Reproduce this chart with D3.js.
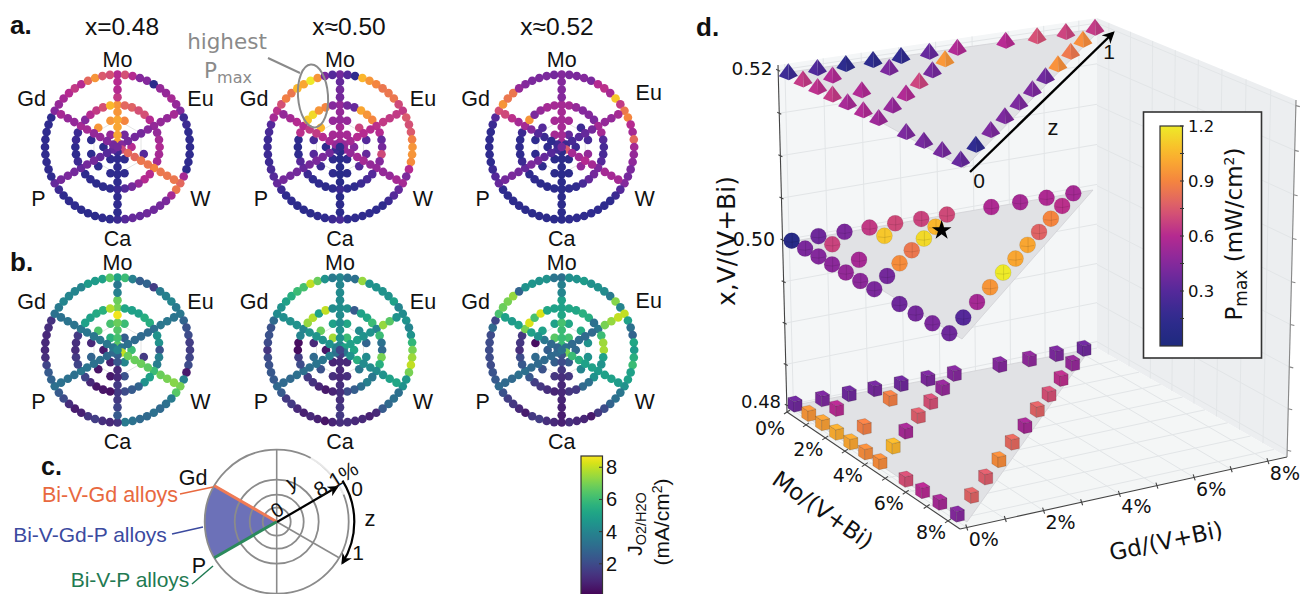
<!DOCTYPE html>
<html><head><meta charset="utf-8">
<script src="https://cdn.jsdelivr.net/npm/d3@7"></script>
<style>html,body{margin:0;background:#fff}svg{display:block}</style></head>
<body><svg id="c" width="1301" height="594"></svg>
<script>
// ---------- DATA: Pmax (mW/cm2), polar panels a ----------
const pOuter48=[.6,.72,.6,.45,.45,.12,.5,.5,.55,.5, .45,.2,.2,.15,.15,.15,.15,.15,.12,.55, .8,.85,.55,.42,.4,.38,.38,.35,.35,.3, .2,.15,.15,.12,.12,.12,.15,.15,.15,.2, .35,.15,.15,.15,.15,.15,.15,.15,.15,.15, .45,.5,.55,.6,.65,.6,.8,.95,.75,.72];
const pMid48=[.95,.8,.78,.72,.72,.6, .5,.5,.55,.58,.55,.55, .9,.6,.6,.5,.4,.3, .2,.15,.13,.12,.15,.15, .35,.2,.15,.15,.2,.2, .55,.45,.6,.65,.72,1.05];
const pInner48=[.9,null,null,.3,null,.15,.15,.15,.15,.15,.95,.95];
const pCore48=[.4,.6,.15,.15,.12,.5];
const pSpokes48=[[1,1,1,1,.95,.65,.6,.6],[.45,.4,.4,.4,.45,.5,.5,.55],[.7,.8,.8,.85,.85,.85,.85,.85],[.2,.15,.15,.15,.15,.15,.15,.15],[.35,.3,.35,.4,.4,.4,.42,.4],[.4,.45,.5,.5,.55,.5,.5,.55]];
const pCenter48=.4;

const pOuter50=[.4,.3,.15,1.05,.95,.9,.85,.85,.85,.7, .65,.75,.72,.75,.88,.95,.95,.92,.6,.42, .55,.35,.3,.2,.15,.15,.15,.15,.15,.15, .25,.2,.15,.15,.12,.12,.12,.15,.15,.2, .35,.3,.25,.2,.2,.2,.2,.25,.3,.55, .62,.72,.88,.85,1.05,1,1.2,.95,.42,.3];
const pMid50=[.5,.4,.35,1,.95,.9, .62,.6,.35,.4,.7,.45, .5,.3,.25,.2,.15,.15, .2,.15,.12,.15,.15,.2, .35,.3,.15,.12,.15,.62, .6,1.1,1.15,.95,.9,.45];
const pInner50=[.5,.68,.3,.35,.3,.12,.15,.2,.3,.25,1.05,.5];
const pCore50=[.55,.45,.15,.15,.15,.55];
const pSpokes50=[[.55,.55,.55,.5,.5,.4,.4,.35],[.5,.55,.6,.6,.6,.65,.65,.65],[.5,.5,.55,.55,.5,.5,.5,.55],[.1,.1,.1,.1,.1,.1,.12,.12],[.2,.4,.42,.42,.4,.4,.4,.4],[.5,.55,.6,.65,.65,.6,.55,.5]];
const pCenter50=.15;

const pOuter52=[.45,.42,.42,.45,.42,.6,.62,.55,1.1,.65, .85,.9,.6,.55,.8,.55,.5,.48,.42,.4, .45,.3,.2,.15,.15,.15,.15,.15,.15,.15, .12,.12,.12,.12,.12,.12,.13,.13,.13,.15, .35,.3,.2,.15,.15,.15,.15,.15,.2,.3, .72,.95,.85,.85,.5,.45,.42,.42,.42,.4];
const pMid52=[.55,.55,.5,.45,.45,.42, .55,.55,.3,.25,.25,.3, .42,.4,.35,.25,.15,.15, .12,.12,.12,.12,.15,.15, .35,.2,.15,.15,.15,.2, .55,.95,.42,.5,.55,.55];
const pInner52=[.55,.2,.25,.5,.5,.12,.12,.15,.15,.15,.3,.55];
const pCore52=[.35,.2,.12,.12,.15,.55];
const pSpokes52=[[.55,.55,.55,.55,.55,.45,.45,.45],[.2,.25,.3,.35,.4,.5,.5,.55],[.75,.55,.55,.6,.55,.55,.55,.55],[.12,.12,.12,.12,.12,.12,.12,.12],[.25,.3,.35,.4,.42,.4,.42,.4],[.2,.15,.2,.3,.45,.55,.62,.7]];
const pCenter52=.4;

// ---------- DATA: J O2/H2O (mA/cm2), polar panels b ----------
const jOuter48=[5,6,3.8,2.6,2.8,1.6,3.6,3.8,4,3.6, 3.5,2.8,2.2,2,1.6,1.6,1.8,2,.6,3.8, 7,6.5,3.6,3.2,3,3.2,3,3,3.3,3.6, 1.3,1,1.2,1.6,1.4,.8,.7,1.1,2,2.5, 3.2,2.8,2.5,1.8,1.2,1,1,1,1.2,1.3, 3.3,3.6,4,4,4,4,4.8,4.8,5,6.5];
const jMid48=[7,5.2,5,5,5.5,5.5, 3.2,4.5,4.4,2.2,3.8,3.7, 6,5,4.5,2.8,2.5,2, 1.5,.4,.5,.5,1,1.8, 3.5,1.8,1.5,1.1,1.2,1.5, 3.5,5,5,5.3,5.6,7.8];
const jInner48=[6,null,null,1.5,null,2.2,.6,.5,2.8,1,6.3,6.2];
const jCore48=[2.6,6,4,.8,.6,5.6];
const jSpokes48=[[6.5,6.2,6.4,6.8,8.6,6.8,3.8,3.5],[3.4,3.2,3,3,3,3.5,3.5,3.4],[8,6.8,6.8,6.8,6.6,6.8,7,7.2],[2.6,2.4,1,1,1.5,1.5,1.8,2.5],[3,3,3.2,3.3,3.4,3.3,3.3,3.3],[3.5,3.5,3.5,3.5,3.5,3.4,3.4,3.3]];
const jCenter48=4;

const jOuter50=[4,3.4,3.2,7.4,4.5,4.5,4.5,4.4,5,4, 4.2,4.5,4,4.5,5.8,7,7.5,8,7,4.7, 4.5,3.2,3.2,3,2.5,1,.8,1,1,1.2, 1.2,.9,.5,.8,1,.8,1,1.5,1.5,2.5, 3,2.5,2.4,2.2,2,1.4,2,2.2,2.2,3, 4.2,4.5,5,5.5,6,6.2,8,6.8,4.5,3.6];
const jMid50=[4.3,4.4,2.5,5,5.2,6, 4,6,3.3,3,7,5.5, 4.2,3.5,3.8,3.2,2.6,2, 1.2,.9,.6,.9,1.3,1.5, 3.2,2,1.6,.3,.3,4, 4,7.4,7.8,5,8,4.2];
const jInner50=[5.2,4.2,2.8,4.2,3.5,1.2,1.2,2.2,3,1,6.8,5];
const jCore50=[6,5.2,1,.9,.5,7.6];
const jSpokes50=[[4,4.4,4.5,4.3,4.2,4.2,4.2,4],[5,5,5,4.5,4.5,7.4,6.5,4.5],[3.5,4.5,5.5,4.2,4.2,4.5,5,5.2],[1.5,1,1,1,1.2,1.2,1.4,1.5],[3.3,3.8,3.4,3.4,3.2,3.2,3,3],[3.8,4.5,4.4,4.6,4.5,4.5,4.4,4.3]];
const jCenter50=1.8;

const jOuter52=[3.2,4.3,4.5,4.8,4.4,4.4,4.2,3.6,7.2,4, 8,5,3.3,2.8,5.2,4.8,5.5,6,5,5, 4.5,3.5,3.2,2.8,2,1.5,.6,.9,1,1.2, .8,1,1.2,1.6,1.5,.7,1,1.4,1.6,2.2, 3,2.5,2.3,2,2,2,2,2,3,1.8, 6.2,6.8,7,7.4,2.8,4.5,4.6,4.5,4.5,3.4];
const jMid52=[5,5.2,5.2,5.6,5.5,3.2, 3.5,6,7.5,7.6,5,4.5, 4.8,4.5,3.2,3,1.5,1.4, 1,.9,1.2,1.4,1.6,2.4, 3.2,2.4,2,1.2,1.4,1.4, 7,8.3,6.2,8.3,5.2,5];
const jInner52=[5.2,5.4,4.5,4.5,4,1.4,1.4,2.2,3,.3,5,5];
const jCore52=[6.2,3,2.5,2.6,2.6,6.5];
const jSpokes52=[[6,6,6,6.2,5.2,5,4,3.8],[3.2,3,3,3,3,7,7.4,8],[7,6,5.5,5,5,5,5,4.8],[2.2,2,1.4,1.2,1,.9,.8,.7],[3,3,3,3,3,3.2,3,3],[2.8,3,3.5,4.5,5,5,4.8,5]];
const jCenter52=3.2;

// ---------- DATA: panel d, composition of each mark (percent) and Pmax per level ----------
const gdPct=[0,0,0,0,0,0,0,0,0,0,0, .76,1.5,2.21,2.94,3.68,4.41,5.67,6.49,7.24,8, .9,1.79,2.63,3.47,4.27,5.05,5.79,6.55,7.28, .76,2.23,.77,.78,1.53,2.29,3,3.7];
const moPct=[0,.68,1.36,2.05,2.75,3.48,4.19,5.47,6.29,7.14,8, 0,0,0,0,0,0,0,0,0,0, 7.1,6.21,5.37,4.53,3.73,2.95,2.21,1.45,.72, .7,.72,2.04,3.45,2.74,2,1.35,.69];
const pmaxL48=[.38,.95,.98,1.02,1,.92,.92,.72,.6,.55,.45, .42,.38,.4,.38,.42,.45,.45,.48,.42,.38, .78,.76,.92,.8,.55,.78,.72,.62,.5, .6,.88,.88,1.05,.55,.76,.72,.5];
const pmaxL50=[.08,.42,.45,.47,.5,.47,.42,.38,.4,.42,.38, .38,.42,.65,.7,.68,.7,.58,.55,.58,.55, .3,.55,.95,1.2,1,1,.78,.9,.62, .68,1.1,.55,.4,.92,.85,1.15,1.05];
const pmaxL52=[.2,.65,.62,.65,.55,.58,.52,.42,.4,.4,.35, .28,.12,.12,.15,.35,.58,.6,.72,.68,.65, .15,.42,.42,.42,.42,.38,.93,.85,.92, .58,.42,.58,.5,.58,.68,.4,.95];
const starPoint={gd:3.7,mo:1.0};
const levelLabels=["0.48","0.50","0.52"];
const moTicks=[0,2,4,6,8], gdTicks=[0,2,4,6,8];
const pmaxTicks=[.3,.6,.9,1.2], pmaxMinor=[.15,.45,.75,1.05];
const jTicks=[2,4,6,8];
const spokeNames=["Mo","Eu","W","Ca","P","Gd"];
const titles=["x=0.48","x≈0.50","x≈0.52"];

// ---------- colours ----------
const FS="'Liberation Sans',Arial,sans-serif", DV="'DejaVu Sans',sans-serif";
const pColor=d3.scaleLinear().domain([0,.15,.3,.45,.6,.75,.9,1.05,1.2])
  .range(["#1e2a7e","#2f2b8e","#55299a","#84299c","#b52a90","#da5a6e","#f4853f","#fbb62c","#eeea28"]).clamp(true);
const jColor=v=>d3.interpolateViridis(Math.min(1,Math.max(0,v/8.8)));

const svg=d3.select("#c");
function text(g,x,y,s,o={}){
  const t=g.append("text").attr("x",x).attr("y",y).attr("dy",".35em")
    .attr("font-family",o.font||FS).attr("font-size",o.size||20).attr("fill",o.fill||"#111")
    .attr("text-anchor",o.anchor||"middle").attr("font-weight",o.weight||null).text(s);
  if(o.rot!==undefined)t.attr("transform",`rotate(${o.rot} ${x} ${y})`);
  return t;
}

// ---------- polar panels ----------
const rScale=d3.scaleLinear().domain([0,8]).range([0,72.5]);
const rad=d=>d*Math.PI/180;
const ringOuter=8, ringMid=4.65, ringInner=3, ringCore=1.55;
const spokeLevels=[.55,1.33,2.2,3,3.87,5.5,6.33,7.2];
const labelPos={Mo:[0,-88],Eu:[83,-49],W:[83,51],Ca:[0,91],P:[-79,51],Gd:[-86,-49]};
function polar(cx,cy,d,color,adj={}){
  const g=svg.append("g").attr("transform",`translate(${cx},${cy})`);
  const hex=d3.range(6).map(i=>d3.pointRadial(rad(i*60),rScale(ringInner)));
  g.append("path").attr("d","M"+hex.join("L")+"Z").attr("fill","none").attr("stroke","#ddd").attr("stroke-width",.8);
  const dots=[];
  d.outer.forEach((v,i)=>dots.push({a:i*6,l:ringOuter,v}));
  d.mid.forEach((v,i)=>dots.push({a:i*10,l:ringMid,v}));
  d.inner.forEach((v,i)=>dots.push({a:15+i*30,l:ringInner,v}));
  d.core.forEach((v,i)=>dots.push({a:30+i*60,l:ringCore,v}));
  d.spokes.forEach((arr,s)=>arr.forEach((v,k)=>dots.push({a:s*60,l:spokeLevels[k],v})));
  dots.push({a:0,l:0,v:d.center});
  g.selectAll("circle").data(dots.filter(p=>p.v!==null)).join("circle")
    .attr("cx",p=>d3.pointRadial(rad(p.a),rScale(p.l))[0])
    .attr("cy",p=>d3.pointRadial(rad(p.a),rScale(p.l))[1])
    .attr("r",4.3).attr("fill",p=>color(p.v));
  spokeNames.forEach(n=>{
    const o=adj[n]||labelPos[n];
    text(g,o[0],o[1],n,{size:21.5});
  });
}
const setP=[
 {outer:pOuter48,mid:pMid48,inner:pInner48,core:pCore48,spokes:pSpokes48,center:pCenter48},
 {outer:pOuter50,mid:pMid50,inner:pInner50,core:pCore50,spokes:pSpokes50,center:pCenter50},
 {outer:pOuter52,mid:pMid52,inner:pInner52,core:pCore52,spokes:pSpokes52,center:pCenter52}];
const setJ=[
 {outer:jOuter48,mid:jMid48,inner:jInner48,core:jCore48,spokes:jSpokes48,center:jCenter48},
 {outer:jOuter50,mid:jMid50,inner:jInner50,core:jCore50,spokes:jSpokes50,center:jCenter50},
 {outer:jOuter52,mid:jMid52,inner:jInner52,core:jCore52,spokes:jSpokes52,center:jCenter52}];
const colCx=[117.5,340,561.7];
setP.forEach((d,i)=>polar(colCx[i],147,d,pColor,i==2?{Eu:[87,-55]}:{}));
setJ.forEach((d,i)=>polar(colCx[i],350,d,jColor,i==2?{Eu:[87,-50]}:{}));
titles.forEach((t,i)=>text(svg,[122,349,557][i],26,t,{size:24.5}));
text(svg,10,25,"a.",{anchor:"start",size:26,weight:"bold"});
text(svg,10,262,"b.",{anchor:"start",size:26,weight:"bold"});
text(svg,41,466,"c.",{anchor:"start",size:25,weight:"bold"});
text(svg,696,27,"d.",{anchor:"start",size:26,weight:"bold"});

// highest Pmax annotation
const GR="#8a8a8a";
text(svg,227,41,"highest",{font:DV,size:21.5,fill:GR});
const hp=text(svg,228,70,"P",{font:DV,size:21.5,fill:GR});
hp.append("tspan").attr("dy","5").attr("font-size",16).text("max");
svg.append("line").attr("x1",268).attr("y1",58).attr("x2",300).attr("y2",73).attr("stroke",GR).attr("stroke-width",2);
svg.append("ellipse").attr("cx",313).attr("cy",96).attr("rx",15).attr("ry",31.5)
  .attr("transform","rotate(-4 313 96)").attr("fill","none").attr("stroke",GR).attr("stroke-width",2);

// ---------- panel c ----------
const cg=svg.append("g").attr("transform","translate(276.7,521.7)");
const cr=[72,42,27,14], RG="#8b8b8b";
cg.append("path").attr("d",d3.arc()({innerRadius:0,outerRadius:72,startAngle:rad(-120),endAngle:rad(-60)})).attr("fill","#5c62b0").attr("opacity",.9);
cr.forEach(r=>cg.append("circle").attr("r",r).attr("fill","none").attr("stroke",RG).attr("stroke-width",1.8));
[0,120,180,240,300].forEach(a=>{const p=d3.pointRadial(rad(a),72);
  cg.append("line").attr("x2",p[0]).attr("y2",p[1]).attr("stroke",RG).attr("stroke-width",1.6);});
cg.append("path").attr("d",d3.arc()({innerRadius:71,outerRadius:74,startAngle:rad(28),endAngle:rad(68)})).attr("fill","#fff").attr("opacity",.8);
const gp=d3.pointRadial(rad(300),72), pp=d3.pointRadial(rad(240),72);
cg.append("line").attr("x2",gp[0]).attr("y2",gp[1]).attr("stroke","#ef7a55").attr("stroke-width",3);
cg.append("line").attr("x2",pp[0]).attr("y2",pp[1]).attr("stroke","#2b8a5c").attr("stroke-width",3);
svg.append("defs").html(`<marker id="ah" viewBox="0 0 10 10" refX="8" refY="5" markerWidth="5" markerHeight="5" orient="auto-start-reverse"><path d="M0 0L10 5L0 10L3 5Z" fill="#000"/></marker>`);
svg.append("line").attr("x1",277).attr("y1",522).attr("x2",337).attr("y2",487).attr("stroke","#000").attr("stroke-width",2.2).attr("marker-end","url(#ah)");
const curve=d3.path(); curve.arc(0,0,77.6,rad(-32),rad(32),false);
svg.append("path").attr("d",curve.toString()).attr("transform","translate(276.7,521.7)").attr("fill","none").attr("stroke","#000").attr("stroke-width",2.2).attr("marker-end","url(#ah)");
text(svg,193,477,"Gd",{size:21.5});
text(svg,199,565,"P",{size:21.5});
text(svg,292,482,"y",{size:21,rot:-20});
text(svg,277,510,"0",{size:20,rot:-30});
text(svg,336,479,"8.1%",{size:21,rot:-32});
text(svg,357,489,"0",{size:21});
text(svg,358,553,"1",{size:21});
text(svg,370,518,"z",{size:22});
const OR="#e8693f",BL="#3b4a9f",GN="#1f7a52";
text(svg,110,494,"Bi-V-Gd alloys",{size:21.5,fill:OR});
svg.append("line").attr("x1",180).attr("y1",494).attr("x2",213).attr("y2",487).attr("stroke",OR).attr("stroke-width",1.5);
text(svg,90,535,"Bi-V-Gd-P alloys",{size:21,fill:BL});
svg.append("line").attr("x1",172).attr("y1",534).attr("x2",203).attr("y2",527).attr("stroke",BL).attr("stroke-width",1.5);
text(svg,130,580,"Bi-V-P alloys",{size:21,fill:GN});
svg.append("line").attr("x1",192).attr("y1",584).attr("x2",213).attr("y2",566).attr("stroke",GN).attr("stroke-width",1.5);

// ---------- J colourbar ----------
const defs=svg.select("defs");
function grad(id,f,dom){const g=defs.append("linearGradient").attr("id",id).attr("x1",0).attr("x2",0).attr("y1",1).attr("y2",0);
  d3.range(0,1.0001,.05).forEach(t=>g.append("stop").attr("offset",t).attr("stop-color",f(dom[0]+t*(dom[1]-dom[0]))));}
grad("gj",jColor,[0,8.7]); grad("gp",pColor,[0,1.2]);
const jY=d3.scaleLinear().domain([0,8.7]).range([596,456]);
svg.append("rect").attr("x",581).attr("y",jY(8.7)).attr("width",21.5).attr("height",jY(0)-jY(8.7)).attr("fill","url(#gj)").attr("stroke","#333").attr("stroke-width",1.2);
jTicks.forEach(t=>{svg.append("line").attr("x1",599).attr("x2",603).attr("y1",jY(t)).attr("y2",jY(t)).attr("stroke","#333");
  text(svg,606,jY(t),t,{anchor:"start",size:20});});
const jl=text(svg,635,524,"J",{size:21,rot:-90});
jl.append("tspan").attr("dy",4).attr("font-size",14.5).text("O2/H2O");
const jl2=text(svg,662,522,"(mA/cm",{size:21,rot:-90});
jl2.append("tspan").attr("dy",-7).attr("font-size",14).text("2");
jl2.append("tspan").attr("dy",7).text(")");

// ---------- panel d: box ----------
function quad(p0,p1,p2,p3){
  const [x0,y0]=p0,[x1,y1]=p1,[x2,y2]=p2,[x3,y3]=p3;
  const dx1=x1-x2,dx2=x3-x2,sx=x0-x1+x2-x3,dy1=y1-y2,dy2=y3-y2,sy=y0-y1+y2-y3;
  const den=dx1*dy2-dx2*dy1,gg=(sx*dy2-dx2*sy)/den,hh=(dx1*sy-sx*dy1)/den;
  const a=x1-x0+gg*x1,b=x3-x0+hh*x3,d=y1-y0+gg*y1,e=y3-y0+hh*y3;
  return (u,v)=>{const w=gg*u+hh*v+1;return [(a*u+b*v+x0)/w,(d*u+e*v+y0)/w];};
}
const A=[787,412],B=[960,529],C=[1287,457],D=[1097,348],At=[778,65],Dt=[1097,18],Ct=[1296,100];
const wallL=quad(A,D,Dt,At), wallR=quad(D,C,Ct,Dt), floor=quad(A,D,C,B);
const gdU=d3.scaleLinear().domain([0,8]).range([.02,.94]);
const moV=d3.scaleLinear().domain([0,8]).range([0,.935]);
const zV=d3.scaleLinear().domain([.48,.52]).range([.02,.985]);
const poly=(pts,fill)=>svg.append("path").attr("d","M"+pts.join("L")+"Z").attr("fill",fill);
poly([A,D,Dt,At],"#f4f6f7"); poly([D,C,Ct,Dt],"#eceef0"); poly([A,D,C,B],"#f4f6f6");
const gl=(f,p,q)=>{const a=f(...p),b=f(...q);svg.append("line").attr("x1",a[0]).attr("y1",a[1]).attr("x2",b[0]).attr("y2",b[1]).attr("stroke","#e2e5e7").attr("stroke-width",1);};
d3.range(0,8.01,1).forEach(k=>{
  const u=gdU(k),v=moV(k),z=zV(.48+k*.005);
  gl(wallL,[u,0],[u,1]); gl(wallL,[0,z],[1,z]);
  gl(wallR,[1-v,0],[1-v,1]); gl(wallR,[0,z],[1,z]);
  gl(floor,[u,0],[u,1]); gl(floor,[0,v],[1,v]);
});
// axes
const AX="#444";
const seg=(a,b,c=AX,w=1.1)=>svg.append("line").attr("x1",a[0]).attr("y1",a[1]).attr("x2",b[0]).attr("y2",b[1]).attr("stroke",c).attr("stroke-width",w);
seg(A,B); seg(B,C); seg(A,At); seg(C,Ct,"#888");
d3.range(0,8.01,1).forEach(k=>{
  const m=floor(0,moV(k)), g=floor(gdU(k),1), z=wallL(0,zV(.48+k*.005)), r=wallR(1,zV(.48+k*.005));
  seg([m[0]-3,m[1]+2],[m[0]+3,m[1]-2]);
  seg([g[0]-1,g[1]-3],[g[0]+1,g[1]+3]);
  seg([z[0]-2,z[1]-1],[z[0]+2,z[1]+1]);
  seg([r[0],r[1]],[r[0]+4,r[1]+1],"#888");
});
moTicks.forEach(t=>{const m=floor(0,moV(t));text(svg,m[0]-17,m[1]+(t==0?16:11),t+"%",{font:DV,size:19});});
gdTicks.forEach(t=>{const g=floor(gdU(t),1);text(svg,g[0]+17,g[1]+12,t+"%",{font:DV,size:19});});
text(svg,823,510,"Mo/(V+Bi)",{font:DV,size:23,rot:35});
text(svg,1166,541,"Gd/(V+Bi)",{font:DV,size:23,rot:-12});
text(svg,726,241,"x,V/(V+Bi)",{font:DV,size:25,rot:-90});
text(svg,752,69,levelLabels[2],{font:DV,size:18.5});
text(svg,754,239,levelLabels[1],{font:DV,size:19});
text(svg,761,402,levelLabels[0],{font:DV,size:18});

// ---------- panel d: plates and marks ----------
const levels=[
 {vals:pmaxL48,A:[795,404],B:[957.3,514],D:[1084,348.3],plate:[[790,406],[967,522],[1090,349]],shape:"cube"},
 {vals:pmaxL50,A:[791.7,240.7],B:[949.3,333.3],D:[1073.3,193.3],plate:[[800,240],[962,339],[1093,190]],shape:"ball"},
 {vals:pmaxL52,A:[788.3,72.7],B:[960.7,160],D:[1095,28.3],plate:[[790,72],[964,168],[1102,28]],shape:"cone"}];
const frac=d3.scaleLinear().domain([0,8]).range([0,1]);
const place=(L,gd,mo)=>[L.A[0]+frac(gd)*(L.D[0]-L.A[0])+frac(mo)*(L.B[0]-L.A[0]),L.A[1]+frac(gd)*(L.D[1]-L.A[1])+frac(mo)*(L.B[1]-L.A[1])];
const path=p=>"M"+p.join("L")+"Z";
const shade=(c,k)=>k>0?d3.color(c).brighter(k).formatHex():d3.color(c).darker(-k).formatHex();
function cube(g,c){
  const e1=[6.2,4],e2=[8,-1.8],e3=[0,-10.5],o=[-7.1,4.15];
  const v=(a,b,h)=>[o[0]+a*e1[0]+b*e2[0],o[1]+a*e1[1]+b*e2[1]+h*e3[1]];
  g.append("path").attr("d",path([v(0,0,0),v(1,0,0),v(1,0,1),v(0,0,1)])).attr("fill",shade(c,-.1));
  g.append("path").attr("d",path([v(1,0,0),v(1,1,0),v(1,1,1),v(1,0,1)])).attr("fill",shade(c,-.22));
  g.append("path").attr("d",path([v(0,0,1),v(1,0,1),v(1,1,1),v(0,1,1)])).attr("fill",shade(c,.15));
  g.selectAll("path").attr("stroke","#000").attr("stroke-opacity",.28).attr("stroke-width",.5);
}
function ball(g,c){
  g.append("circle").attr("r",8).attr("fill",c).attr("stroke","#000").attr("stroke-opacity",.2).attr("stroke-width",.5);
  g.append("path").attr("d","M-6.5 1Q0 2.5 6.5 .5M.5 -7V7").attr("fill","none").attr("stroke","#000").attr("stroke-opacity",.22).attr("stroke-width",.5);
}
function cone(g,c){
  g.append("path").attr("d",path([[0,-9.5],[-9.5,3.5],[.5,7.5]])).attr("fill",shade(c,.05));
  g.append("path").attr("d",path([[0,-9.5],[.5,7.5],[9.5,3]])).attr("fill",shade(c,-.2));
}
const marker={cube,ball,cone};
levels.forEach(L=>{
  svg.append("path").attr("d",path(L.plate)).attr("fill","#e1e2e5").attr("stroke","#d0d1d4").attr("stroke-width",.8);
  const pts=gdPct.map((g,i)=>({p:place(L,g,moPct[i]),v:L.vals[i]})).sort((a,b)=>a.p[1]-b.p[1]);
  pts.forEach(d=>{
    const g=svg.append("g").attr("transform",`translate(${d.p[0]},${d.p[1]})`);
    marker[L.shape](g,pColor(d.v));
  });
});
const sp=place(levels[1],starPoint.gd,starPoint.mo);
svg.append("path").attr("d",d3.symbol(d3.symbolStar,120)()).attr("transform",`translate(${sp[0]},${sp[1]})`).attr("fill","#000");

// z arrow
svg.append("line").attr("x1",970).attr("y1",172).attr("x2",1113).attr("y2",33).attr("stroke","#000").attr("stroke-width",2.4).attr("marker-end","url(#ah)");
text(svg,979,181,"0",{size:21});
text(svg,1109,52,"1",{size:21});
text(svg,1053,127,"z",{size:22});

// ---------- Pmax colourbar ----------
svg.append("rect").attr("x",1143.5).attr("y",112).attr("width",118).attr("height",246).attr("fill","#fff").attr("stroke","#333").attr("stroke-width",1.6);
const pY=d3.scaleLinear().domain([0,1.2]).range([346,126]);
svg.append("rect").attr("x",1160).attr("y",pY(1.2)).attr("width",22.5).attr("height",pY(0)-pY(1.2)).attr("fill","url(#gp)").attr("stroke","#333").attr("stroke-width",1.2);
pmaxTicks.concat(pmaxMinor).forEach(t=>svg.append("line").attr("x1",1180).attr("x2",1184).attr("y1",pY(t)).attr("y2",pY(t)).attr("stroke","#333"));
pmaxTicks.forEach(t=>text(svg,1188,pY(t),t.toFixed(1),{font:DV,size:16.5,anchor:"start"}));
const pl=text(svg,1234,234,"P",{font:DV,size:23,rot:-90});
pl.append("tspan").attr("dy",5).attr("font-size",17).text("max");
pl.append("tspan").attr("dy",-5).text(" (mW/cm");
pl.append("tspan").attr("dy",-8).attr("font-size",14).text("2");
pl.append("tspan").attr("dy",8).text(")");
</script></body></html>
